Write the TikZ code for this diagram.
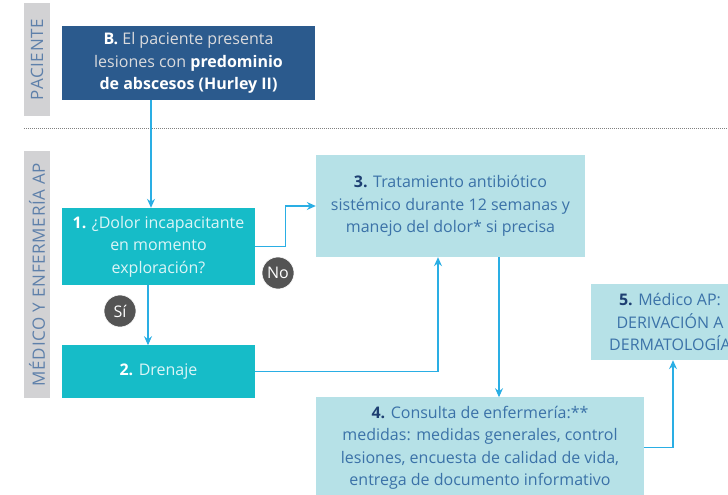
\documentclass[tikz,border=0pt]{standalone}
\usepackage{fontspec}
\setmainfont{Open Sans}
\usetikzlibrary{arrows.meta,positioning}
\definecolor{boxdark}{HTML}{2B5A8D}
\definecolor{boxteal}{HTML}{16BCC8}
\definecolor{boxlight}{HTML}{B6E1E7}
\definecolor{bandgray}{HTML}{D2D2D4}
\definecolor{bandtext}{HTML}{5E80AA}
\definecolor{lighttext}{HTML}{3B72A8}
\definecolor{numtext}{HTML}{1D3F72}
\definecolor{arrowblue}{HTML}{2AAEE4}
\definecolor{circgray}{HTML}{545454}
\tikzset{%
	band/.style     = {fill=bandgray, minimum width=26pt, inner sep=0pt},
	bandlabel/.style= {rotate=90, text=bandtext, font=\fontsize{17}{20}\selectfont\addfontfeatures{LetterSpace=4}},
	darkbox/.style  = {fill=boxdark, text=bandgray!80!white, align=center, inner sep=0pt},
	tealbox/.style  = {fill=boxteal, text=white!85!boxteal, align=center, inner sep=0pt},
	lightbox/.style = {fill=boxlight, text=lighttext, align=center, inner sep=0pt},
	answer/.style   = {circle, fill=circgray, draw=white, line width=0.6pt, text=white, minimum size=32pt, inner sep=0pt},
	arrow/.style    = {line width=1.1pt, draw=arrowblue, -{Stealth[length=9pt,width=8pt,inset=3pt]}},
}
\newcommand{\num}[1]{\textbf{\color{numtext}#1}}
\newcommand{\wnum}[1]{\textbf{\color{white}#1}}
\begin{document}
\begin{tikzpicture}[x=1pt, y=-1pt, font=\fontsize{16}{22.5}\selectfont]
	\clip (0,0) rectangle (728,495);
	% swimlane bands
	\node[band, minimum height=113pt] (lanep) at (37,59.5) {};
	\node[band, minimum height=247pt] (lanem) at (37,274.5) {};
	\node[bandlabel] at (lanep) {PACIENTE};
	\node[bandlabel] at (lanem) {MÉDICO Y ENFERMERÍA AP};
	\draw[gray, line width=1pt, dash pattern=on 1pt off 1pt] (24,128) -- (728,128);
	% boxes
	\node[darkbox, minimum width=253pt, minimum height=74pt] (b) at (188.5,63)
		{\wnum{B.} El paciente presenta\\ lesiones con \textbf{\color{white}predominio}\\ \textbf{\color{white}de abscesos (Hurley II)}};
	\node[tealbox, minimum width=193pt, minimum height=77pt] (n1) at (158.5,246.5)
		{\wnum{1.} ¿Dolor incapacitante\\ en momento\\ exploración?};
	\node[tealbox, minimum width=193pt, minimum height=53pt, below=60pt of n1] (n2)
		{\wnum{2.} Drenaje};
	\node[lightbox, minimum width=269pt, minimum height=102pt] (n3) at (450.5,206)
		{\num{3.} Tratamiento antibiótico\\ sistémico durante 12 semanas y\\ manejo del dolor* si precisa};
	\node[lightbox, minimum width=328pt, minimum height=101pt, below=140pt of n3.south west, anchor=north west] (n4)
		{\num{4.} Consulta de enfermería:**\\ medidas: medidas generales, control\\ lesiones, encuesta de calidad de vida,\\ entrega de documento informativo};
	\node[lightbox, minimum width=158pt, minimum height=76pt] (n5) at (670,322)
		{\num{5.} Médico AP:\\ DERIVACIÓN A\\ DERMATOLOGÍA};
	% answers
	\node[answer] (no) at (278,273) {No};
	\node[answer] (si) at (120,311) {Sí};
	% connectors
	\draw[arrow] ([xshift=-37.5pt]b.south) -- ([xshift=-7.5pt]n1.north);
	\draw[arrow] ([xshift=-10.5pt]n1.south) -- ([xshift=-10.5pt]n2.north);
	\draw[arrow] (n1.east) -- ++(30,0) |- (n3.west);
	\draw[arrow] (n2.east) -| ([xshift=-12.5pt]n3.south);
	\draw[arrow] ([xshift=48.5pt]n3.south) -- ([xshift=48.5pt]n3.south |- n4.north);
	\draw[arrow] (n4.east) -| ([xshift=3pt]n5.south);
\end{tikzpicture}
\end{document}
